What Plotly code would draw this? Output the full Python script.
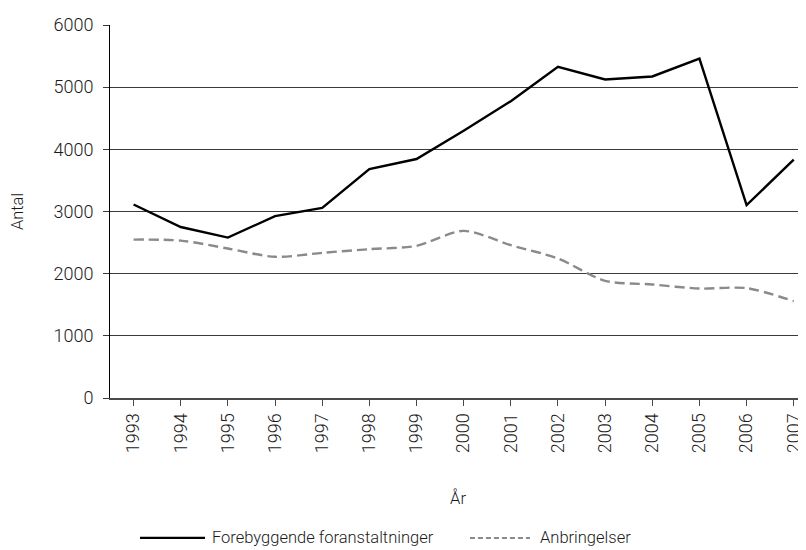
import plotly.graph_objects as go

years = [str(y) for y in range(1993, 2008)]
forebyggende = [3112, 2750, 2580, 2926, 3059, 3683, 3844, 4300, 4775, 5327, 5123, 5172, 5461, 3102, 3836]
anbringelser = [2548, 2532, 2404, 2271, 2335, 2394, 2447, 2689, 2458, 2244, 1885, 1826, 1761, 1767, 1558]
y_ticks = [0, 1000, 2000, 3000, 4000, 5000, 6000]
series_names = ["Forebyggende foranstaltninger", "Anbringelser"]

FONT = "Roboto"
TXT = "#1a1a1a"
GRAY = "#8a8a8a"
W = 300

fig = go.Figure()
fig.add_trace(go.Scatter(
    x=list(range(len(years))), y=forebyggende, mode="lines",
    name=series_names[0], showlegend=False,
    line=dict(color="#000000", width=2.4),
))
fig.add_trace(go.Scatter(
    x=list(range(len(years))), y=anbringelser, mode="lines",
    name=series_names[1], showlegend=False,
    line=dict(color=GRAY, width=2.4, dash="10px,5px", shape="spline", smoothing=0.8),
))

# custom legend (longer line samples than Plotly's native legend)
leg_y = -0.375
fig.add_shape(type="line", xref="paper", yref="paper", x0=0.0431, x1=0.1365, y0=leg_y, y1=leg_y,
              line=dict(color="#000000", width=2.4))
fig.add_annotation(xref="paper", yref="paper", x=0.1437, y=leg_y, xanchor="left", yanchor="middle",
                   text=series_names[0], showarrow=False,
                   font=dict(family=FONT, size=16.5, color=TXT, weight=W))
fig.add_shape(type="line", xref="paper", yref="paper", x0=0.5172, x1=0.6034, y0=leg_y, y1=leg_y,
              line=dict(color=GRAY, width=2, dash="5px,3px"))
fig.add_annotation(xref="paper", yref="paper", x=0.6149, y=leg_y, xanchor="left", yanchor="middle",
                   text=series_names[1], showarrow=False,
                   font=dict(family=FONT, size=16.5, color=TXT, weight=W))

fig.update_layout(
    width=798, height=542,
    margin=dict(l=102, r=0, t=17, b=152),
    paper_bgcolor="white", plot_bgcolor="white",
    font=dict(family=FONT, size=16, color=TXT, weight=W),
    showlegend=False,
)
fig.update_xaxes(
    tickmode="array", tickvals=list(range(len(years))), ticktext=years,
    range=[-0.5, 14.26], tickangle=-90,
    showgrid=False, zeroline=False,
    showline=True, linecolor="#4a4a4a", linewidth=2,
    ticks="outside", ticklen=6, tickcolor="#4a4a4a", tickwidth=1,
    tickson="boundaries",
    tickfont=dict(family=FONT, size=18, color=TXT, weight=W),
    title=dict(text="År", font=dict(family=FONT, size=16.5, color=TXT, weight=W), standoff=40),
)
fig.update_yaxes(
    range=[0, 6000], tickvals=y_ticks,
    showgrid=True, gridcolor="#3a3a3a", gridwidth=1,
    zeroline=False,
    showline=True, linecolor="#000000", linewidth=1,
    ticks="outside", ticklen=6, tickcolor="#3a3a3a",
    ticklabelstandoff=6,
    tickfont=dict(family=FONT, size=18, color=TXT, weight=W),
    title=dict(text="Antal", font=dict(family=FONT, size=16.5, color=TXT, weight=W), standoff=25),
)

fig.write_html("out.html")
